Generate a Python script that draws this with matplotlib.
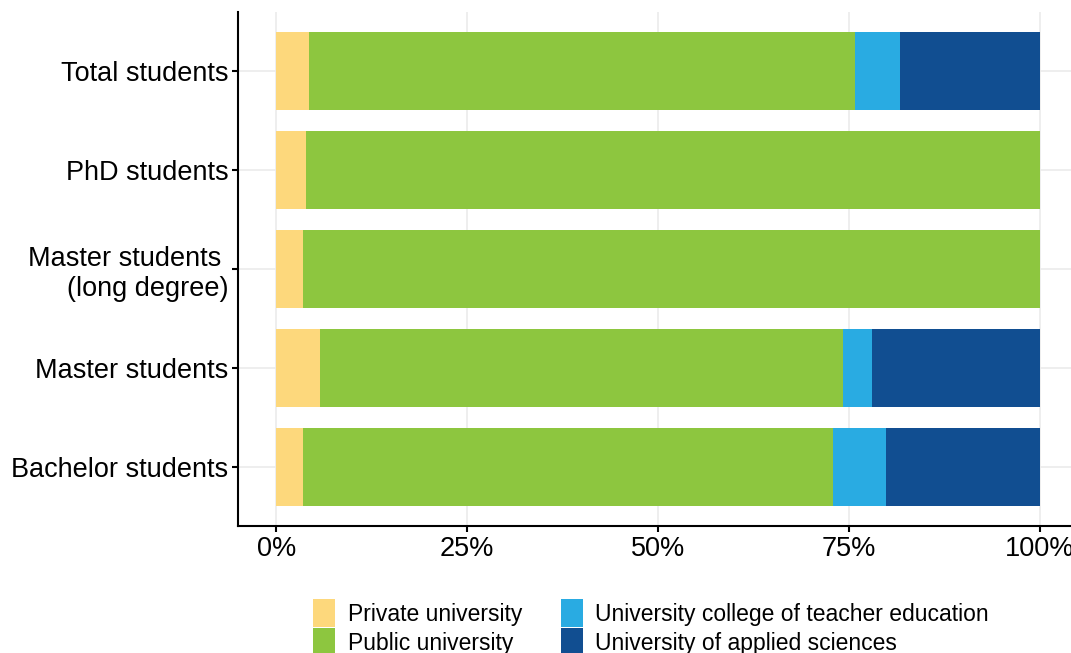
import numpy as np
from matplotlib import pyplot as plt
from matplotlib.ticker import PercentFormatter

plt.rcParams['font.family'] = ['Liberation Sans', 'DejaVu Sans']

categories = ['Bachelor students', 'Master students', 'Master students \n(long degree)',
              'PhD students', 'Total students']
private = [3.5, 5.75, 3.5, 3.9, 4.3]
public = [69.4, 68.45, 96.5, 96.1, 71.5]
teacher = [7.0, 3.8, 0.0, 0.0, 5.9]
applied = [20.1, 22.0, 0.0, 0.0, 18.3]

series = [
    ('Private university', private, '#FDD87C'),
    ('Public university', public, '#8DC63F'),
    ('University college of teacher education', teacher, '#29ABE2'),
    ('University of applied sciences', applied, '#114E91'),
]

fig = plt.figure(figsize=(10.71, 6.53), dpi=100)
ax = fig.add_axes([0.2222, 0.1945, 0.7778, 0.7871])

y = np.arange(len(categories))
left = np.zeros(len(categories))
for name, vals, color in series:
    vals = np.array(vals)
    ax.barh(y, vals, left=left, height=0.79, color=color, label=name, zorder=2)
    left += vals

ax.set_xlim(-5, 104.1)
ax.set_ylim(-0.6, 4.6)
ax.set_xticks([0, 25, 50, 75, 100])
ax.xaxis.set_major_formatter(PercentFormatter(decimals=0))
ax.set_yticks(y)
ax.set_yticklabels(categories)

ax.grid(True, color='#ebebeb', linewidth=1.2, zorder=0)
ax.set_axisbelow(True)
for s in ['top', 'right']:
    ax.spines[s].set_visible(False)
for s in ['left', 'bottom']:
    ax.spines[s].set_linewidth(1.5)
    ax.spines[s].set_color('black')
ax.tick_params(axis='both', length=4, width=1.5, labelsize=19.5, colors='black', pad=3)

fig.legend(loc='upper center', bbox_to_anchor=(0.608, 0.1), ncol=2, frameon=False,
           fontsize=16.5, handlelength=0.95, handleheight=1.5, labelspacing=0.05,
           columnspacing=1.7, handletextpad=0.55, borderpad=0)

fig.savefig('out.png', dpi=100)
